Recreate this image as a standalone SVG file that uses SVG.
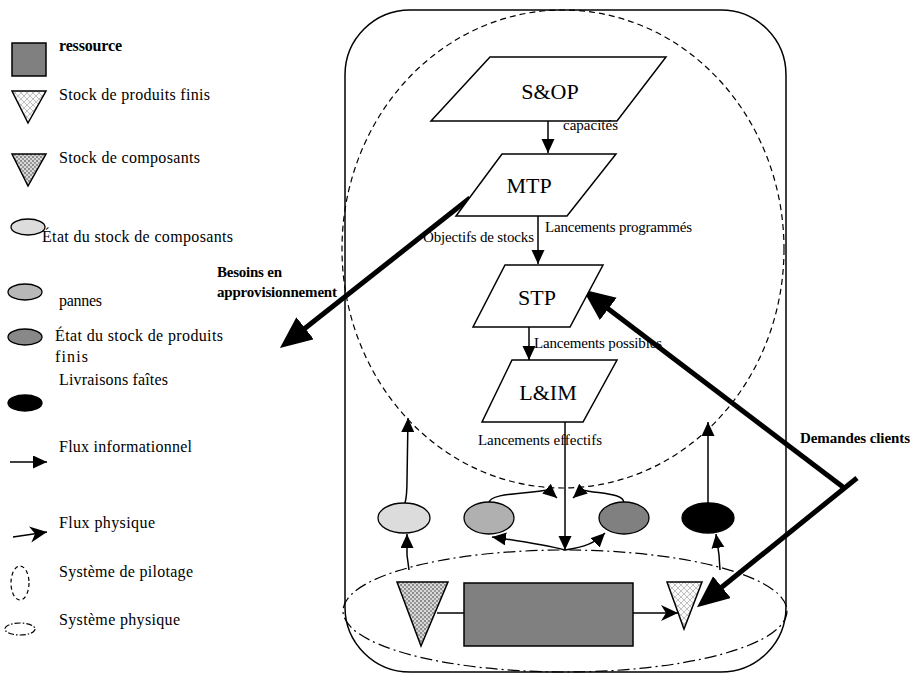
<svg xmlns="http://www.w3.org/2000/svg" width="912" height="675" viewBox="0 0 912 675">
<style>
text{font-family:"Liberation Serif","Times New Roman",serif;fill:#000}
.lg{font-size:16px}
.lb{font-size:15px}
.nd{font-size:22px;text-anchor:middle}
.bd{font-size:15px;font-weight:bold}
.box{fill:#fff;stroke:#000;stroke-width:1.5}
.ln{fill:none;stroke:#000;stroke-width:1.5}
.info{fill:none;stroke:#000;stroke-width:1.5;marker-end:url(#ah)}
.thick{fill:none;stroke:#000;stroke-width:5;marker-end:url(#big)}
.phys{fill:none;stroke:#000;stroke-width:1.5;marker-end:url(#ph)}
.ell{stroke:#000;stroke-width:1.3}
</style>
<defs>
<marker id="ah" markerUnits="userSpaceOnUse" markerWidth="16" markerHeight="14" refX="14" refY="6.5" orient="auto"><path d="M0,0 L14,6.5 L0,13 z" fill="#000"/></marker>
<marker id="big" markerUnits="userSpaceOnUse" markerWidth="34" markerHeight="30" refX="23" refY="14" orient="auto"><path d="M0,0 L32,14 L0,28 z" fill="#000"/></marker>
<marker id="ph" markerUnits="userSpaceOnUse" markerWidth="20" markerHeight="18" refX="17" refY="8" orient="auto"><path d="M0,0 L17,8 L0,16 L5,8 z" fill="#000"/></marker>
<pattern id="hatch" patternUnits="userSpaceOnUse" width="6" height="6"><rect width="6" height="6" fill="#fafafa"/><path d="M0,0 L6,6 M0,6 L6,0" stroke="#a8a8a8" stroke-width="0.7"/></pattern>
<pattern id="dots" patternUnits="userSpaceOnUse" width="4" height="4"><rect width="4" height="4" fill="#d8d8d8"/><rect width="2" height="2" fill="#8c8c8c"/><rect x="2" y="2" width="2" height="2" fill="#9a9a9a"/></pattern>
</defs>

<g id="legend">
  <g id="leg-ressource"><rect x="12" y="43" width="34" height="33" fill="#808080" stroke="#000" stroke-width="1.5"/><text class="lg" x="59" y="51" font-weight="bold" font-size="15" textLength="63">ressource</text></g>
  <g id="leg-finis"><polygon points="12,91 46,91 28,123" fill="url(#hatch)" stroke="#000" stroke-width="1.5"/><text class="lg" x="59" y="100" textLength="151">Stock de produits finis</text></g>
  <g id="leg-composants"><polygon points="12,154 46,154 28,186" fill="url(#dots)" stroke="#000" stroke-width="1.5"/><text class="lg" x="59" y="163" textLength="141">Stock de composants</text></g>
  <g id="leg-etat-comp"><ellipse class="ell" cx="28" cy="227" rx="17" ry="8" fill="#dcdcdc"/><text class="lg" x="42" y="242" textLength="191">État du stock de composants</text></g>
  <g id="leg-pannes"><ellipse class="ell" cx="25" cy="292" rx="17" ry="8" fill="#b8b8b8"/><text class="lg" x="59" y="306" textLength="43">pannes</text></g>
  <g id="leg-etat-finis"><ellipse class="ell" cx="25" cy="337" rx="17" ry="8" fill="#888"/><text class="lg" x="55" y="341" textLength="168">État du stock de produits</text><text class="lg" x="55" y="362" textLength="33">finis</text></g>
  <g id="leg-livraisons"><text class="lg" x="59" y="385" textLength="109">Livraisons faîtes</text><ellipse class="ell" cx="25" cy="403" rx="17" ry="8" fill="#000"/></g>
  <g id="leg-info"><line class="info" x1="10" y1="462" x2="47" y2="462"/><text class="lg" x="59" y="452" textLength="133">Flux informationnel</text></g>
  <g id="leg-phys"><line class="phys" x1="13" y1="537" x2="47" y2="532"/><text class="lg" x="59" y="528" textLength="96">Flux physique</text></g>
  <g id="leg-pilotage"><ellipse cx="20" cy="583" rx="9" ry="17" fill="none" stroke="#000" stroke-width="1.2" stroke-dasharray="4 3"/><text class="lg" x="59" y="577" textLength="134">Système de pilotage</text></g>
  <g id="leg-physique"><ellipse cx="20" cy="629" rx="15" ry="6" fill="none" stroke="#000" stroke-width="1.2" stroke-dasharray="6 2 1.5 2"/><text class="lg" x="59" y="625" textLength="121">Système physique</text></g>
</g>

<g id="frame"><rect x="345" y="10" width="441" height="662" rx="65" ry="65" fill="none" stroke="#000" stroke-width="1.5"/></g>
<g id="systeme-pilotage"><ellipse cx="563" cy="249" rx="221" ry="239" fill="none" stroke="#000" stroke-width="1.2" stroke-dasharray="6 4"/></g>
<g id="systeme-physique"><ellipse cx="565" cy="611" rx="222" ry="61" fill="none" stroke="#000" stroke-width="1.2" stroke-dasharray="12 4 2 4"/></g>

<g id="connectors">
  <line class="info" x1="548" y1="121" x2="548" y2="153"/>
  <line class="info" x1="538" y1="216" x2="538" y2="264"/>
  <line class="info" x1="529" y1="327" x2="529" y2="360"/>
  <line class="info" x1="565" y1="422" x2="565" y2="550"/>
  <path class="info" d="M565,550 C545,545 520,541 492,537"/>
  <path class="info" d="M565,550 C585,547 595,543 605,533"/>
  <path class="info" d="M489,503 C489,493 525,494 548,490 L557,498"/>
  <path class="info" d="M624,503 C624,493 600,494 582,490 L573,498"/>
  <path class="info" d="M405,503 C407,496 407,492 407,480 L408,418"/>
  <line class="info" x1="708" y1="503" x2="708" y2="422"/>
  <path class="info" d="M409,570 L407,555 L407,534"/>
  <path class="info" d="M720,570 L719,555 L716,534"/>
  <line class="ln" x1="437" y1="613" x2="464" y2="613"/>
  <line class="phys" x1="633" y1="613" x2="678" y2="613"/>
  <line class="thick" x1="470" y1="198" x2="287" y2="342.5"/>
  <line class="thick" x1="843" y1="487" x2="590" y2="295"/>
  <line class="thick" x1="857" y1="478" x2="704" y2="601.5"/>
</g>

<g id="node-sop"><polygon class="box" points="490,57 666,57 617,121 431,121"/><text class="nd" x="550" y="99">S&amp;OP</text></g>
<g id="node-mtp"><polygon class="box" points="502,154 616,154 567,216 456,216"/><text class="nd" x="529" y="193">MTP</text></g>
<g id="node-stp"><polygon class="box" points="505,265 603,265 570,327 473,327"/><text class="nd" x="537" y="305">STP</text></g>
<g id="node-lim"><polygon class="box" points="512,360 617,360 583,422 482,422"/><text class="nd" x="548" y="400">L&amp;IM</text></g>

<g id="node-etat-comp"><ellipse class="ell" cx="404" cy="518" rx="26" ry="15" fill="#dcdcdc"/></g>
<g id="node-pannes"><ellipse class="ell" cx="489" cy="518" rx="25" ry="16" fill="#b0b0b0"/></g>
<g id="node-etat-finis"><ellipse class="ell" cx="624" cy="518" rx="25" ry="16" fill="#808080"/></g>
<g id="node-livraisons"><ellipse class="ell" cx="708" cy="518" rx="26" ry="15" fill="#000"/></g>
<g id="node-stock-comp"><polygon points="397,582 448,582 421,646" fill="url(#dots)" stroke="#000" stroke-width="1.5"/></g>
<g id="node-ressource"><rect x="464" y="583" width="169" height="63" fill="#808080" stroke="#000" stroke-width="1.5"/></g>
<g id="node-stock-finis"><polygon points="667,582 702,582 684,629" fill="url(#hatch)" stroke="#000" stroke-width="1.5"/></g>

<g id="labels">
  <text class="lb" x="563" y="130" textLength="55">capacités</text>
  <text class="lb" x="545" y="232" textLength="147">Lancements programmés</text>
  <text class="lb" x="423" y="242" textLength="111">Objectifs de stocks</text>
  <text class="lb" x="534" y="348" textLength="128">Lancements possibles</text>
  <text class="lb" x="478" y="445" textLength="124">Lancements effectifs</text>
  <text class="bd" x="217" y="277" textLength="65">Besoins en</text>
  <text class="bd" x="217" y="297" textLength="120">approvisionnement</text>
  <text class="bd" x="800" y="443" textLength="110">Demandes clients</text>
</g>
</svg>
